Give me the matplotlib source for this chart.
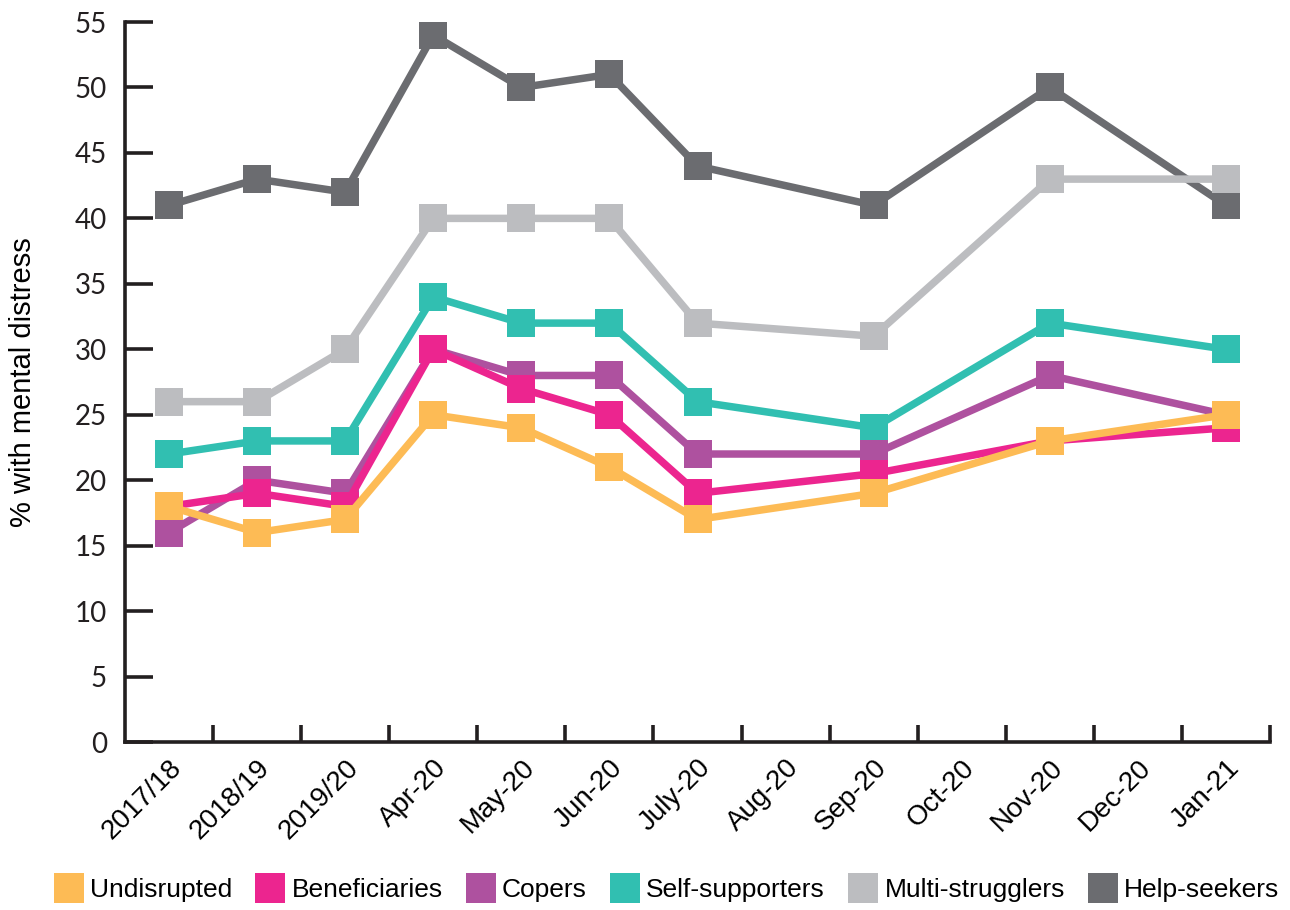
import numpy as np
import matplotlib
matplotlib.use("Agg")
import matplotlib.pyplot as plt
from matplotlib.lines import Line2D

# Share of each group with mental distress, by survey wave
periods = ['2017/18', '2018/19', '2019/20', 'Apr-20', 'May-20', 'Jun-20', 'July-20',
           'Aug-20', 'Sep-20', 'Oct-20', 'Nov-20', 'Dec-20', 'Jan-21']
# waves with data (no survey in Aug, Oct, Dec)
wave_idx = [0, 1, 2, 3, 4, 5, 6, 8, 10, 12]

undisrupted = [18, 16, 17, 25, 24, 21, 17, 19, 23, 25]
beneficiaries = [18, 19, 18, 30, 27, 25, 19, 20.5, 23, 24]
copers = [16, 20, 19, 30, 28, 28, 22, 22, 28, 25]
self_supporters = [22, 23, 23, 34, 32, 32, 26, 24, 32, 30]
multi_strugglers = [26, 26, 30, 40, 40, 40, 32, 31, 43, 43]
help_seekers = [41, 43, 42, 54, 50, 51, 44, 41, 50, 41]

groups = ['Undisrupted', 'Beneficiaries', 'Copers', 'Self-supporters',
          'Multi-strugglers', 'Help-seekers']
series = [undisrupted, beneficiaries, copers, self_supporters,
          multi_strugglers, help_seekers]
colors = ['#FDBB55', '#EC258F', '#AE519F', '#31BFB1', '#BCBDC0', '#6B6C70']

fig = plt.figure(figsize=(12.9, 9.1), dpi=100)
ax = fig.add_axes([0.0969, 0.1846, 0.8876, 0.7912])

# draw darkest group first so the lower lines sit on top
for i in reversed(range(len(groups))):
    ax.plot(wave_idx, series[i], color=colors[i], lw=5.4, marker='s',
            markersize=20, markeredgewidth=0, solid_joinstyle='miter',
            zorder=3 + (len(groups) - i))

ax.set_xlim(-0.5, 12.5)
ax.set_ylim(0, 55)

for s in ['top', 'right']:
    ax.spines[s].set_visible(False)
for s in ['left', 'bottom']:
    ax.spines[s].set_linewidth(2.6)
    ax.spines[s].set_color('#231F20')

ax.set_yticks(np.arange(0, 56, 5))
ax.tick_params(axis='y', direction='in', length=20, width=2.6, color='#231F20',
               pad=13, labelsize=20, labelcolor='#231F20')
for lab in ax.get_yticklabels():
    lab.set_family('Lato')

ax.set_xticks(range(len(periods)))
ax.set_xticklabels(periods, rotation=45, ha='right', va='top',
                   rotation_mode='anchor', fontsize=20, family='Liberation Sans')
ax.tick_params(axis='x', which='major', length=0, pad=9)
ax.set_xticks(np.arange(0.5, 13, 1), minor=True)
ax.tick_params(axis='x', which='minor', direction='in', length=12, width=2.6,
               color='#231F20')

ax.set_ylabel('% with mental distress', fontsize=21, family='Liberation Sans')
ax.yaxis.set_label_coords(-0.077, 0.5)

handles = [Line2D([], [], ls='none', marker='s', markersize=22, markeredgewidth=0,
                  color=c) for c in colors]
fig.legend(handles, groups, loc='center', bbox_to_anchor=(0.518, 0.022),
           ncol=6, frameon=False, prop={'family': 'Liberation Sans', 'size': 19},
           handlelength=0.9, handletextpad=0.35, columnspacing=1.0,
           borderpad=0, borderaxespad=0)

fig.savefig('out.png', dpi=100)
